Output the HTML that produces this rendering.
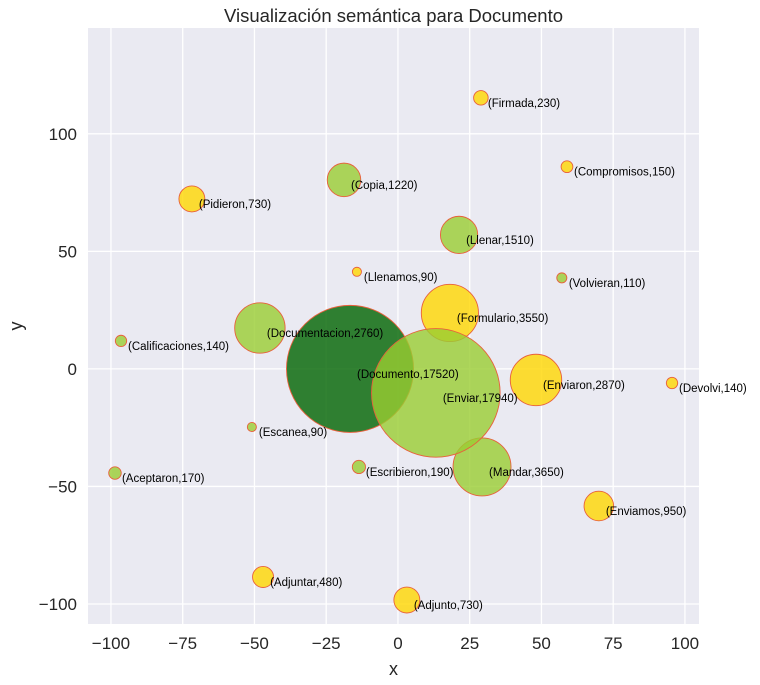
<!DOCTYPE html>
<html><head><meta charset="utf-8"><style>
body{margin:0;background:#fff;}
svg{display:block;font-family:"Liberation Sans","DejaVu Sans",sans-serif;}
</style></head><body>
<svg id="chart" width="760" height="685" xmlns="http://www.w3.org/2000/svg"></svg>
<script>
const labels=["Documento","Firmada","Compromisos","Copia","Pidieron","Llenar","Llenamos","Volvieran","Formulario","Documentacion","Calificaciones","Enviaron","Devolvi","Escanea","Escribieron","Mandar","Aceptaron","Enviamos","Adjuntar","Adjunto","Enviar"];
const xs=[-16.7,28.9,58.9,-18.8,-71.8,21.3,-14.3,57.1,18.1,-48.1,-96.5,48.1,95.5,-50.9,-13.6,29.3,-98.6,70,-47,3.1,13.2];
const ys=[0,115.3,86,80.4,72.3,57,41.3,38.7,23.8,17.4,11.9,-4.7,-6,-24.7,-41.7,-41.7,-44.3,-58.3,-88.5,-98.3,-10.2];
const counts=[17520,230,150,1220,730,1510,90,110,3550,2760,140,2870,140,90,190,3650,170,950,480,730,17940];
const groups=["d","y","y","g","y","g","y","g","y","g","g","y","y","g","g","g","g","y","y","y","g"];
const xTicks=[-100,-75,-50,-25,0,25,50,75,100];
const yTicks=[-100,-50,0,50,100];

const L=88,R=699,T=28,B=624;
const xMin=-108,xMax=104.9,yMin=-108.5,yMax=145;
const sx=v=>L+(v-xMin)/(xMax-xMin)*(R-L);
const sy=v=>B-(v-yMin)/(yMax-yMin)*(B-T);
const NS="http://www.w3.org/2000/svg";
const svg=document.getElementById('chart');
function mk(tag,attrs,parent){const e=document.createElementNS(NS,tag);for(const k in attrs)e.setAttribute(k,attrs[k]);(parent||svg).appendChild(e);return e;}

const bg=mk('rect',{x:L,y:T,width:R-L,height:B-T,fill:'#EAEAF2'});



xTicks.forEach(t=>{
  const g=mk('line',{x1:sx(t),x2:sx(t),y1:T,y2:B,stroke:'#fff','stroke-width':1.3});
  
  
  const tx=mk('text',{x:sx(t),y:B+25,'text-anchor':'middle','font-size':17,fill:'#262626'});
  tx.textContent=t<0?'\u2212'+(-t):t;
  
  
});
yTicks.forEach(t=>{
  const g=mk('line',{x1:L,x2:R,y1:sy(t),y2:sy(t),stroke:'#fff','stroke-width':1.3});
  
  
  const tx=mk('text',{x:L-11,y:sy(t)+6,'text-anchor':'end','font-size':17,fill:'#262626'});
  tx.textContent=t<0?'\u2212'+(-t):t;
  
  
});

const colors={y:'#FFD700',g:'#9ACD32',d:'#006400'};
const k=0.48;
labels.forEach((lab,i)=>{
  const c=mk('circle',{cx:sx(xs[i]),cy:sy(ys[i]),r:Math.sqrt(counts[i])*k,fill:colors[groups[i]],'fill-opacity':0.8,stroke:'#E8603C','stroke-width':0.9});
  
  
});
labels.forEach((lab,i)=>{
  const t=mk('text',{x:sx(xs[i])+7,y:sy(ys[i])+9,'font-size':11.5,fill:'#000'});
  t.textContent='('+lab+','+counts[i]+')';
  
  
});

const title=mk('text',{x:(L+R)/2,y:22,'text-anchor':'middle','font-size':18.5,fill:'#262626'});
title.textContent='Visualización semántica para Documento';


const xl=mk('text',{x:(L+R)/2,y:675,'text-anchor':'middle','font-size':18,fill:'#262626'});
xl.textContent='x';


const yl=mk('text',{x:22,y:(T+B)/2,'text-anchor':'middle','font-size':18,fill:'#262626',transform:'rotate(-90 22 '+((T+B)/2)+')'});
yl.textContent='y';


</script>
</body></html>
